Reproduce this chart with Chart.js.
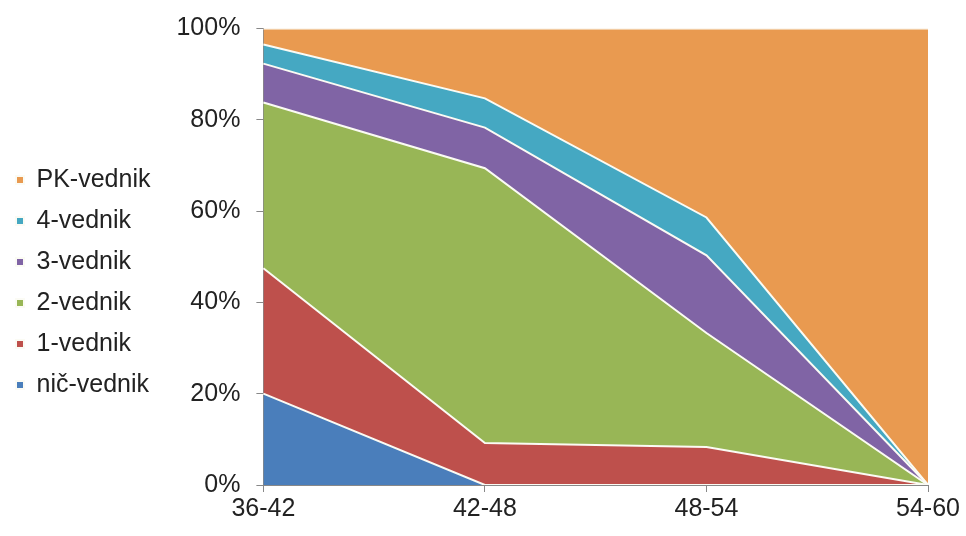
<!DOCTYPE html>
<html>
<head>
<meta charset="utf-8">
<script src="https://cdn.jsdelivr.net/npm/chart.js@4/dist/chart.umd.min.js"></script>
<style>
  html, body { margin: 0; padding: 0; background: #fff; }
  #wrap { width: 966px; height: 536px; }
</style>
</head>
<body>
<div id="wrap"><canvas id="chart" width="966" height="536"></canvas></div>
<script>
// ================== DATA ==================
const categories = ['36-42', '42-48', '48-54', '54-60'];

const nicVednik = [20, 0, 0, 0];
const enVednik  = [27.5, 9.2, 8.3, 0];
const dvaVednik = [36.3, 60.2, 25, 0];
const triVednik = [8.5, 8.9, 17, 0];
const stiriVednik = [4.2, 6.4, 8.3, 0];
const pkVednik  = [3.5, 15.3, 41.4, 100];

const yTicks = [0, 20, 40, 60, 80, 100];

// ================== SERIES ==================
function area(label, data, color, first) {
  return {
    label: label,
    data: data,
    backgroundColor: color,
    borderColor: '#fbfbf4',
    borderWidth: 2,
    pointRadius: 0,
    tension: 0,
    fill: first ? 'origin' : '-1'
  };
}

const datasets = [
  area('nič-vednik', nicVednik, '#4a7ebb', true),
  area('1-vednik', enVednik, '#be504c', false),
  area('2-vednik', dvaVednik, '#98b656', false),
  area('3-vednik', triVednik, '#8064a5', false),
  area('4-vednik', stiriVednik, '#45a8c2', false),
  area('PK-vednik', pkVednik, '#e99a50', false)
];

const tickFont = { family: 'Liberation Sans, Arial, sans-serif', size: 25, lineHeight: 1 };
const legendFont = { family: 'Liberation Sans, Arial, sans-serif', size: 25 };

new Chart(document.getElementById('chart').getContext('2d'), {
  type: 'line',
  data: { labels: categories, datasets: datasets },
  options: {
    responsive: false,
    animation: false,
    layout: { padding: { top: 13, right: 38, bottom: 9, left: 0 } },
    plugins: {
      tooltip: { enabled: false },
      legend: {
        position: 'left',
        reverse: true,
        // empty title only pushes the items a bit lower
        title: { display: true, text: '', font: { size: 1 }, padding: { top: 24, bottom: 0 } },
        labels: {
          color: '#222',
          font: legendFont,
          boxWidth: 8,
          boxHeight: 8,
          padding: 16
        }
      }
    },
    scales: {
      x: {
        offset: false,
        grid: { display: true, drawOnChartArea: false, drawTicks: true, tickLength: 7, color: '#888' },
        border: { color: '#888' },
        ticks: { color: '#222', font: tickFont, padding: 5, maxRotation: 0 }
      },
      y: {
        stacked: true,
        min: 0,
        max: 100,
        afterBuildTicks: axis => { axis.ticks = yTicks.map(v => ({ value: v })); },
        grid: { display: true, drawOnChartArea: false, drawTicks: true, tickLength: 7, color: '#888' },
        border: { color: '#888' },
        ticks: { color: '#222', font: tickFont, padding: 16, callback: v => v + '%' }
      }
    }
  }
});
</script>
</body>
</html>
